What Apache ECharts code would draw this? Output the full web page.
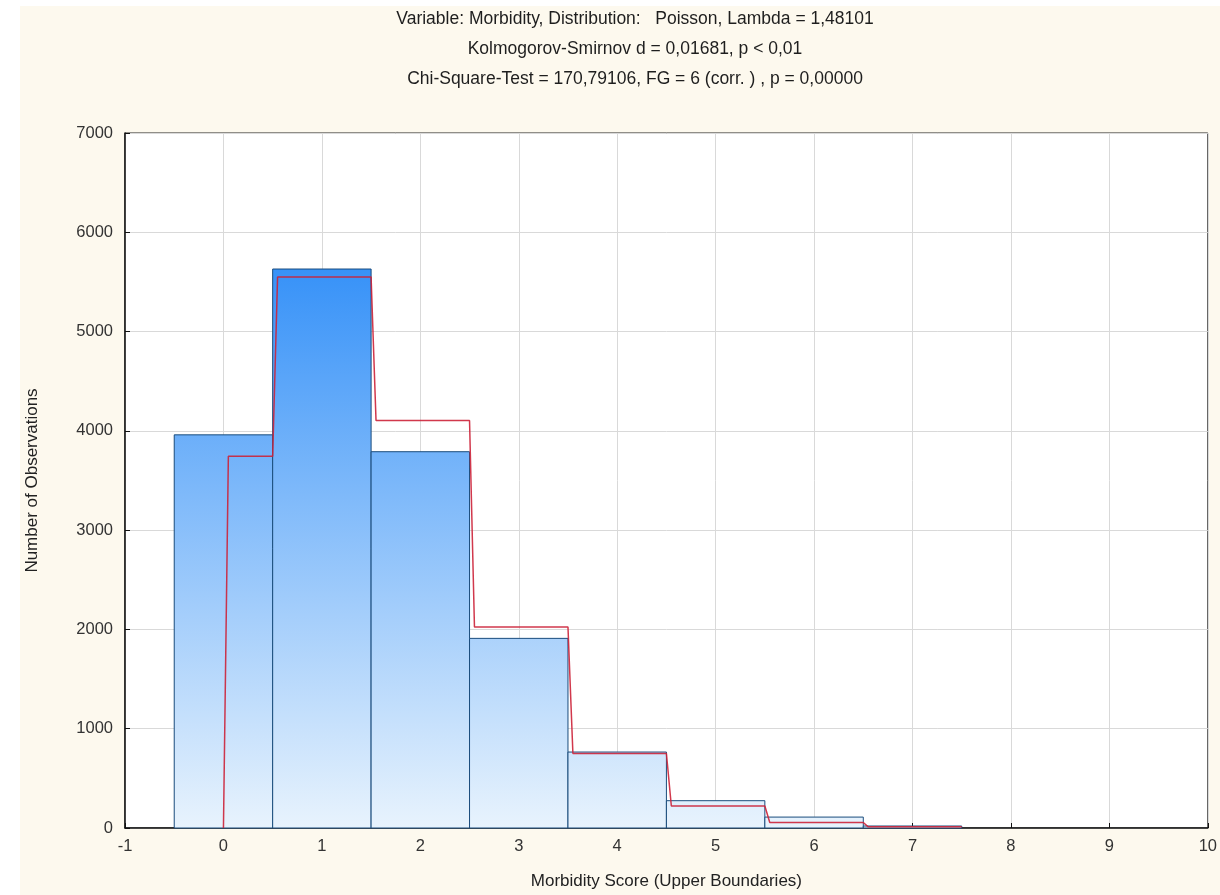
<!DOCTYPE html>
<html>
<head>
<meta charset="utf-8">
<script src="https://cdn.jsdelivr.net/npm/echarts@6/dist/echarts.min.js"></script>
<style>
  html, body { margin: 0; padding: 0; background: #ffffff; }
  #chart { width: 1220px; height: 895px; }
</style>
</head>
<body>
<div id="chart"></div>
<script>
// ---- data ----
const titleLines = [
  'Variable: Morbidity, Distribution:   Poisson, Lambda = 1,48101',
  'Kolmogorov-Smirnov d = 0,01681, p < 0,01',
  'Chi-Square-Test = 170,79106, FG = 6 (corr. ) , p = 0,00000'
];
const categories = [0, 1, 2, 3, 4, 5, 6, 7];              // morbidity score bins
const observed   = [3960, 5630, 3790, 1910, 765, 275, 110, 20];
const expected   = [3745, 5550, 4105, 2025, 750, 222, 55, 12];
const xName = 'Morbidity Score (Upper Boundaries)';
const yName = 'Number of Observations';

// ---- build step line points from bins ----
const stepPts = [[categories[0], 0]];
categories.forEach((c, i) => {
  const start = i === 0 ? c + 0.05 : c - 0.45;
  stepPts.push([start, expected[i]]);
  stepPts.push([c + 0.5, expected[i]]);
});

const maxObs = Math.max.apply(null, observed);
const font = 'Liberation Sans, Arial, sans-serif';

const chart = echarts.init(document.getElementById('chart'), null, { renderer: 'canvas' });
chart.setOption({
  backgroundColor: '#ffffff',
  animation: false,
  graphic: [{
    type: 'rect', z: -10, silent: true,
    shape: { x: 20, y: 6, width: 1200, height: 889 },
    style: { fill: '#fdf9ee' }
  }],
  title: titleLines.map((t, i) => ({
    text: t, left: 630, top: 5 + i * 30, textAlign: 'center',
    textStyle: { fontSize: 17.5, fontWeight: 'normal', color: '#1e1e1e', fontFamily: font }
  })),
  grid: {
    left: 125, right: 11, top: 133, bottom: 67,
    show: true, backgroundColor: '#ffffff', borderColor: '#222', borderWidth: 1
  },
  xAxis: {
    type: 'value', min: -1, max: 10, interval: 1,
    name: xName, nameLocation: 'middle', nameGap: 45,
    nameTextStyle: { fontSize: 17, color: '#222', fontFamily: font },
    axisLine: { show: true, onZero: false, lineStyle: { color: '#111', width: 1.5 } },
    axisTick: { show: true, inside: true, length: 5, lineStyle: { color: '#111' } },
    axisLabel: { fontSize: 16.5, color: '#333', fontFamily: font, margin: 10 },
    splitLine: { show: true, lineStyle: { color: '#d9d9d9', width: 1 } }
  },
  yAxis: {
    type: 'value', min: 0, max: 7000, interval: 1000,
    name: yName, nameLocation: 'middle', nameGap: 84, nameRotate: 90,
    nameTextStyle: { fontSize: 17, color: '#222', fontFamily: font },
    axisLine: { show: true, onZero: false, lineStyle: { color: '#111', width: 1.5 } },
    axisTick: { show: true, inside: true, length: 5, lineStyle: { color: '#111' } },
    axisLabel: { fontSize: 16.5, color: '#333', fontFamily: font, margin: 12,
                 formatter: function (v) { return String(v); } },
    splitLine: { show: true, lineStyle: { color: '#d9d9d9', width: 1 } }
  },
  series: [
    {
      type: 'custom',
      name: 'Observed',
      data: categories.map((c, i) => [c, observed[i]]),
      encode: { x: 0, y: 1 },
      renderItem: function (params, api) {
        const c = api.value(0), v = api.value(1);
        const p1 = api.coord([c - 0.5, v]);
        const p2 = api.coord([c + 0.5, 0]);
        const yTop = api.coord([0, maxObs])[1];
        const yBot = api.coord([0, 0])[1];
        return {
          type: 'rect',
          shape: { x: p1[0], y: p1[1], width: p2[0] - p1[0], height: p2[1] - p1[1] },
          style: {
            fill: {
              type: 'linear', x: 0, y: yTop, x2: 0, y2: yBot, global: true,
              colorStops: [
                { offset: 0, color: '#3792f8' },
                { offset: 1, color: '#e8f3fd' }
              ]
            },
            stroke: '#1a4c7c',
            lineWidth: 1
          }
        };
      },
      z: 2
    },
    {
      type: 'line',
      name: 'Expected',
      data: stepPts,
      showSymbol: false,
      symbol: 'none',
      lineStyle: { color: '#cc2238', width: 1.5, opacity: 0.9 },
      z: 3
    }
  ]
});
</script>
</body>
</html>
